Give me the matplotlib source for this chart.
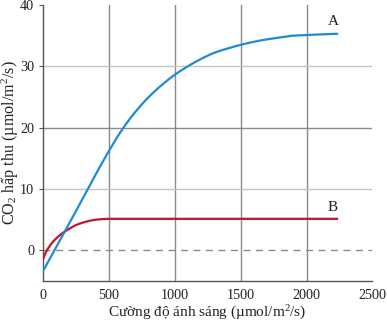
import matplotlib
matplotlib.use("Agg")
import matplotlib.pyplot as plt
import numpy as np

plt.rcParams['font.family'] = ['Liberation Serif', 'DejaVu Serif']
plt.rcParams['mathtext.fontset'] = 'custom'
plt.rcParams['mathtext.rm'] = 'Liberation Serif'
plt.rcParams['mathtext.it'] = 'Liberation Serif:italic'

# Data
light_A = [0, 100, 200, 300, 400, 500, 600, 700, 800, 900, 1000, 1100, 1200,
           1300, 1400, 1500, 1600, 1700, 1800, 1900, 2000, 2100, 2200, 2240]
co2_A = [-3.5, 0.4, 4.3, 8.3, 12.3, 16.1, 19.6, 22.5, 24.9, 26.9, 28.6, 30.0,
         31.2, 32.2, 32.9, 33.5, 34.0, 34.4, 34.7, 35.0, 35.1, 35.2, 35.3, 35.3]
light_B = [0, 25, 50, 100, 150, 200, 250, 300, 350, 400, 450, 500, 1000, 1500, 2000, 2240]
co2_B = [-1.6, -0.3, 0.6, 1.9, 2.8, 3.5, 4.1, 4.5, 4.8, 5.0, 5.1, 5.15, 5.15, 5.15, 5.15, 5.15]

x_ticks = [0, 500, 1000, 1500, 2000, 2500]
y_ticks = [0, 10, 20, 30, 40]

fig = plt.figure(figsize=(3.87, 3.22), dpi=100)
ax = fig.add_axes([0.110, 0.127, 0.8525, 0.8575])
ax.set_xlim(0, 2500)
ax.set_ylim(-5, 40)

# grid
for xv in [500, 1000, 1500, 2000]:
    ax.axvline(xv, color='#8a8a8a', lw=1.0, zorder=1)
for yv, c in [(10, '#c4c4c4'), (20, '#8a8a8a'), (30, '#c4c4c4')]:
    ax.axhline(yv, color=c, lw=1.0, zorder=1)
ax.axhline(0, color='#8a8a8a', lw=1.0, ls=(0, (5, 4)), zorder=1)

# smooth curves (monotone cubic interpolation)
def smooth(xs, ys):
    xs = np.asarray(xs, float); ys = np.asarray(ys, float)
    xx = np.linspace(xs[0], xs[-1], 400)
    h = np.diff(xs); d = np.diff(ys) / h
    m = np.zeros_like(ys)
    m[0] = d[0]; m[-1] = d[-1]
    for i in range(1, len(xs) - 1):
        if d[i-1] * d[i] <= 0:
            m[i] = 0
        else:
            w1 = 2*h[i] + h[i-1]; w2 = h[i] + 2*h[i-1]
            m[i] = (w1 + w2) / (w1/d[i-1] + w2/d[i])
    idx = np.clip(np.searchsorted(xs, xx) - 1, 0, len(xs) - 2)
    t = (xx - xs[idx]) / h[idx]
    h00 = 2*t**3 - 3*t**2 + 1; h10 = t**3 - 2*t**2 + t
    h01 = -2*t**3 + 3*t**2; h11 = t**3 - t**2
    yy = h00*ys[idx] + h10*h[idx]*m[idx] + h01*ys[idx+1] + h11*h[idx]*m[idx+1]
    return xx, yy

xa, ya = smooth(light_A, co2_A)
xb, yb = smooth(light_B, co2_B)
ax.plot(xb, yb, color='#c4122f', lw=1.6, zorder=3, solid_capstyle='butt')
ax.plot(xa, ya, color='#1f8ad6', lw=1.6, zorder=4, solid_capstyle='butt')

ax.text(2200, 36.3, 'A', fontsize=11, ha='center', va='bottom', color='#222222')
ax.text(2200, 6.0, 'B', fontsize=11, ha='center', va='bottom', color='#222222')

for s in ['top', 'right']:
    ax.spines[s].set_visible(False)
for s in ['left', 'bottom']:
    ax.spines[s].set_color('#555555')
    ax.spines[s].set_linewidth(1.0)

ax.set_xticks(x_ticks)
ax.set_yticks(y_ticks)
ax.tick_params(axis='x', length=0, pad=6, labelsize=10.2, colors='#222222')
ax.tick_params(axis='y', length=3, width=0.8, color='#555555', pad=3, labelsize=10.2, labelcolor='#222222')

ax.set_xlabel('Cường độ ánh sáng (µmol/m$^2$/s)', fontsize=11, color='#222222', va='center')
ax.set_ylabel('CO$_2$ hấp thu (µmol/m$^2$/s)', fontsize=11.6, color='#222222', va='center')
ax.xaxis.set_label_coords(0.5, -0.115)
ax.yaxis.set_label_coords(-0.099, 0.50)

fig.savefig('out.png', dpi=100)
